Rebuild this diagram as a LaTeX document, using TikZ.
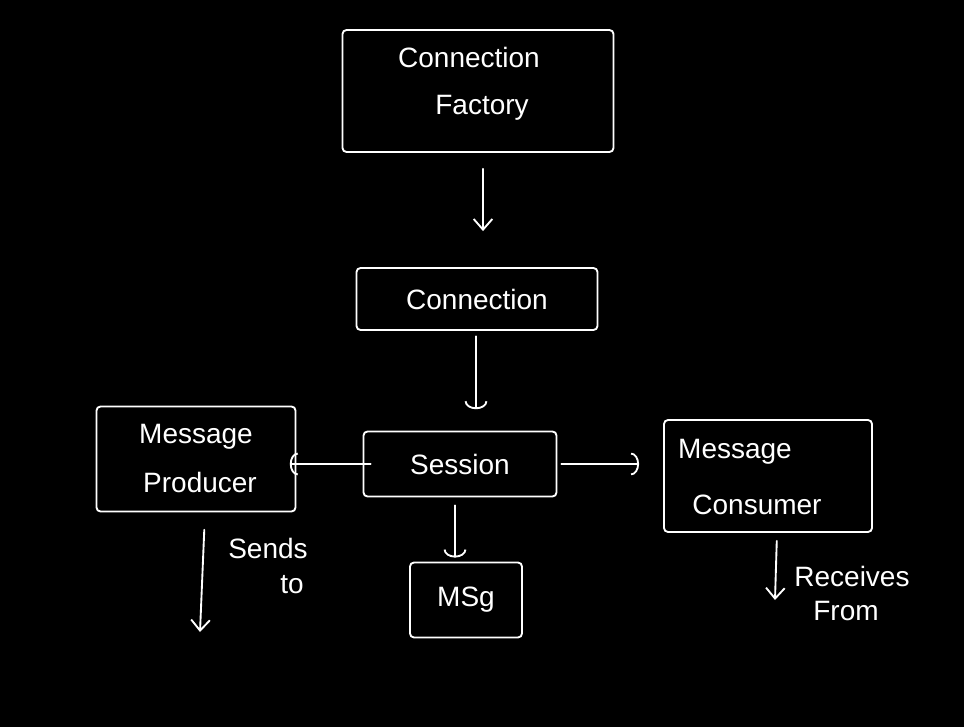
\documentclass[tikz,border=0pt]{standalone}
\usepackage{fontspec}
\setmainfont{Liberation Sans}
\usetikzlibrary{arrows.meta}
\begin{document}
\begin{tikzpicture}[x=0.75pt,y=-0.75pt,
  every node/.style={text=white},
  line/.style={draw=white,line width=1.4pt,line cap=round,line join=round},
  box/.style={line,rounded corners=3pt,minimum width=#1},
  lbl/.style={font=\fontsize{21}{24}\selectfont},
  vee/.style={line,-{Straight Barb[length=8pt,width=14pt]}},
  cup/.style={line,-{Arc Barb[length=6pt,width=17pt]}}]
\fill[black] (0,0) rectangle (964,727);
\useasboundingbox (0,0) rectangle (964,727);
% boxes
\node[box=203.25pt,minimum height=91.5pt] (f) at (478,91) {};
\node[lbl] (ft1) at (469,57) {Connection};
\node[lbl] (ft2) at (482,108) {Factory};
\node[box=180.75pt,minimum height=46.5pt,lbl] (c) at (477,299) {Connection};
\node[box=144.75pt,minimum height=48.75pt,lbl] (s) at (460,464) {Session};
\node[box=149.25pt,minimum height=78.75pt] (p) at (196,459) {};
\node[lbl] (pt1) at (196,437) {Message};
\node[lbl] (pt2) at (200,482) {Producer};
\node[box=156pt,minimum height=84pt] (m) at (768,476) {};
\node[lbl] (mt1) at (735,452) {Message};
\node[lbl] (mt2) at (757,505) {Consumer};
\node[box=84pt,minimum height=56.25pt,lbl] (g) at (466,600) {MSg};
% labels
\node[lbl] (st1) at (268,548) {Sends};
\node[lbl] (st2) at (292,585) {to};
\node[lbl] (rt1) at (852,576) {Receives};
\node[lbl] (rt2) at (846,611) {From};
% free ends
\coordinate (pe) at (200,632);
\coordinate (ce) at (775,600);
% connectors
\draw[vee,shorten <=12pt,shorten >=27pt] (f.south -| 483,0) -- (c.north -| 483,0);
\draw[cup,shorten <=4pt,shorten >=16pt] (c.south -| 476,0) -- (s.north -| 476,0);
\draw[cup,shorten <=-6pt,shorten >=-5pt] (s.west) -- (s.west -| p.east);
\draw[cup,shorten <=3pt,shorten >=18pt] (s.east) -- (s.east -| m.west);
\draw[cup,shorten <=6pt,shorten >=3pt] (s.south -| 455,0) -- (g.north -| 455,0);
\draw[vee,shorten <=13pt] (p.south -| 205,0) -- (pe);
\draw[vee,shorten <=6pt] (m.south -| 777,0) -- (ce);
\end{tikzpicture}
\end{document}
